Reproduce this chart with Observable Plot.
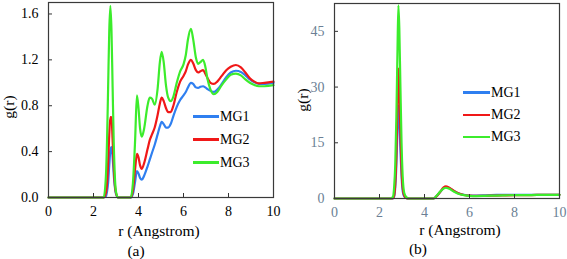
<!DOCTYPE html>
<html>
<head>
<meta charset="utf-8">
<script src="https://cdn.jsdelivr.net/npm/d3@7"></script>
<script src="https://cdn.jsdelivr.net/npm/@observablehq/plot@0.6"></script>
<style>
  html, body { margin: 0; padding: 0; background: #fff; }
  #wrap { position: relative; width: 567px; height: 259px; font-family: "Times New Roman", Times, "Liberation Serif", "DejaVu Serif", serif; color: #000; }
  .abs { position: absolute; white-space: nowrap; transform: translate(-50%, -50%); line-height: 1; }
  .panel { position: absolute; top: 0; }
  .leg { position: absolute; font-size: 14px; line-height: 1; }
  .leg .sw { position: absolute; height: 2.4px; }
  .leg .lbl { position: absolute; transform: translateY(-50%); white-space: nowrap; }
</style>
</head>
<body>
<div id="wrap"></div>
<script>
// ---------- Data ----------
const series = ["MG1", "MG2", "MG3"];
const colors = ["#2f7ff0", "#f01818", "#3cec2c"];

// Panel (a): g(r) vs r
const rA = [0, 2.45, 2.55, 2.6, 2.65, 2.7, 2.75, 2.8, 2.85, 2.9, 2.95, 3.0, 3.1, 3.65, 3.75, 3.85, 3.93, 4.0, 4.07, 4.15, 4.25, 4.4, 4.5, 4.6, 4.72, 4.85, 4.95, 5.03, 5.12, 5.22, 5.32, 5.43, 5.55, 5.7, 5.85, 6.0, 6.1, 6.2, 6.33, 6.43, 6.55, 6.65, 6.75, 6.87, 6.97, 7.07, 7.2, 7.35, 7.5, 7.7, 7.9, 8.1, 8.33, 8.55, 8.75, 8.95, 9.15, 9.35, 9.6, 10];
const mg1A = [0, 0, 0.01, 0.05, 0.13, 0.28, 0.41, 0.44, 0.35, 0.2, 0.09, 0.03, 0, 0, 0.03, 0.14, 0.23, 0.21, 0.17, 0.155, 0.19, 0.27, 0.33, 0.39, 0.46, 0.55, 0.62, 0.66, 0.64, 0.61, 0.61, 0.64, 0.71, 0.79, 0.85, 0.89, 0.92, 0.96, 1.0, 0.99, 0.96, 0.955, 0.965, 0.97, 0.96, 0.945, 0.93, 0.92, 0.94, 0.99, 1.05, 1.09, 1.105, 1.095, 1.065, 1.03, 1.005, 0.99, 0.99, 1.0];
const mg2A = [0, 0, 0.04, 0.12, 0.3, 0.55, 0.7, 0.7, 0.5, 0.27, 0.11, 0.04, 0, 0, 0.06, 0.25, 0.38, 0.35, 0.28, 0.25, 0.3, 0.42, 0.5, 0.55, 0.61, 0.72, 0.82, 0.87, 0.84, 0.78, 0.745, 0.745, 0.8, 0.92, 1.01, 1.06, 1.1, 1.16, 1.2, 1.17, 1.11, 1.09, 1.1, 1.11, 1.08, 1.04, 1.0, 0.99, 1.01, 1.06, 1.11, 1.14, 1.155, 1.135, 1.09, 1.04, 1.01, 0.995, 1.0, 1.01];
const mg3A = [0, 0, 0.18, 0.48, 0.96, 1.45, 1.67, 1.45, 0.96, 0.48, 0.18, 0.05, 0, 0, 0.12, 0.5, 0.89, 0.78, 0.6, 0.53, 0.6, 0.8, 0.87, 0.86, 0.81, 0.95, 1.18, 1.27, 1.18, 0.98, 0.87, 0.84, 0.88, 1.0, 1.1, 1.16, 1.24, 1.38, 1.47, 1.38, 1.22, 1.165, 1.18, 1.2, 1.14, 1.03, 0.94, 0.9, 0.92, 0.98, 1.03, 1.07, 1.08, 1.065, 1.03, 1.0, 0.98, 0.97, 0.97, 0.98];

// Panel (b): g(r) vs r
const rB = [0, 2.5, 2.6, 2.65, 2.7, 2.75, 2.8, 2.84, 2.88, 2.93, 2.98, 3.03, 3.1, 3.2, 3.3, 4.4, 4.55, 4.7, 4.85, 4.95, 5.1, 5.3, 5.5, 5.75, 6.0, 6.3, 6.7, 7.2, 7.6, 8.0, 8.5, 9.0, 9.5, 10];
const mg1B = [0, 0, 0.05, 0.5, 3, 9, 19, 25, 22, 13, 6, 2, 0.5, 0.1, 0, 0, 0.7, 1.8, 2.8, 3.1, 2.8, 2.0, 1.4, 1.0, 0.8, 0.8, 0.85, 0.95, 1.0, 1.0, 0.98, 0.97, 0.98, 1.0];
const mg2B = [0, 0, 0.1, 0.8, 4, 12, 26, 35, 30, 18, 8, 3, 0.8, 0.1, 0, 0, 0.7, 1.8, 3.0, 3.3, 2.9, 2.1, 1.4, 0.95, 0.75, 0.7, 0.72, 0.8, 0.85, 0.9, 0.92, 0.95, 0.97, 1.0];
const mg3B = [0, 0, 0.5, 3, 9, 22, 40, 52, 46, 30, 15, 6, 1.5, 0.3, 0, 0, 0.8, 1.9, 2.7, 2.9, 2.6, 1.9, 1.3, 0.9, 0.7, 0.65, 0.7, 0.8, 0.85, 0.9, 0.9, 0.95, 0.95, 1.0];

const xTicks = [0, 2, 4, 6, 8, 10];
const yTicksA = [0, 0.4, 0.8, 1.2, 1.6];
const yTicksB = [0, 15, 30, 45];

// ---------- Build ----------
const FONT = '"Times New Roman", Times, "Liberation Serif", "DejaVu Serif", serif';
function toRows(r, arrs) {
  const rows = [];
  arrs.forEach((a, i) => a.forEach((g, j) => rows.push({ series: series[i], r: r[j], g })));
  return rows;
}
const rowsA = toRows(rA, [mg1A, mg2A, mg3A]);
const rowsB = toRows(rB, [mg1B, mg2B, mg3B]);

const wrap = document.getElementById("wrap");

function panel({ rows, left, width, height, margins, yDomain, yTicks, yFmt, tickColor }) {
  const chart = Plot.plot({
    width, height,
    marginLeft: margins[0], marginRight: margins[1], marginTop: margins[2], marginBottom: margins[3],
    style: { fontFamily: FONT, fontSize: "14px", background: "transparent", overflow: "visible" },
    x: { domain: [0, 10] },
    y: { domain: yDomain },
    color: { domain: series, range: colors },
    marks: [
      Plot.line(rows, { x: "r", y: "g", z: "series", stroke: "series", strokeWidth: 2.2, curve: "monotone-x" }),
      Plot.axisX(xTicks, { tickSize: -4, tickFormat: () => "", label: null, stroke: "#333" }),
      Plot.axisX(xTicks, { tickSize: 0, tickPadding: 9, label: null, fill: tickColor, fontSize: 14, fontFamily: FONT }),
      Plot.axisY(yTicks, { tickSize: -4, tickFormat: () => "", label: null, stroke: "#333" }),
      Plot.axisY(yTicks, { tickSize: 0, tickPadding: 10, label: null, tickFormat: yFmt, fill: tickColor, fontSize: 14, fontFamily: FONT }),
      Plot.frame({ stroke: "#3a3a3a", strokeWidth: 1.2 })
    ]
  });
  chart.classList.add("panel");
  chart.style.left = left + "px";
  wrap.appendChild(chart);
}

panel({ rows: rowsA, left: 0, width: 290, height: 225, margins: [48, 17, 2, 28], yDomain: [0, 1.7], yTicks: yTicksA, yFmt: d3.format(".1f"), tickColor: "#000" });
panel({ rows: rowsB, left: 290, width: 277, height: 225, margins: [44, 8, 3, 27], yDomain: [0, 52.5], yTicks: yTicksB, yFmt: d3.format("d"), tickColor: "#6b7f95" });

function text(str, x, y, size, rotate) {
  const d = document.createElement("div");
  d.className = "abs";
  d.textContent = str;
  d.style.left = x + "px";
  d.style.top = y + "px";
  d.style.fontSize = size + "px";
  d.style.fontFamily = FONT;
  if (rotate) d.style.transform = "translate(-50%, -50%) rotate(-90deg)";
  wrap.appendChild(d);
}
text("r (Angstrom)", 159, 231, 15.5);
text("(a)", 136, 251, 15.5);
text("g(r)", 9, 107, 15.5, true);
text("r (Angstrom)", 460, 230, 15.5);
text("(b)", 418, 249, 15.5);
text("g(r)", 303, 100, 15.5, true);

function legend(x0, x1, ys) {
  const lg = document.createElement("div");
  lg.className = "leg";
  lg.style.left = "0px"; lg.style.top = "0px";
  lg.style.fontFamily = FONT;
  series.forEach((s, i) => {
    const sw = document.createElement("div");
    sw.className = "sw";
    sw.style.left = x0 + "px";
    sw.style.width = (x1 - x0) + "px";
    sw.style.top = (ys[i] - 1.2) + "px";
    sw.style.background = colors[i];
    lg.appendChild(sw);
    const lb = document.createElement("div");
    lb.className = "lbl";
    lb.textContent = s;
    lb.style.left = (x1 + 1) + "px";
    lb.style.top = ys[i] + "px";
    lg.appendChild(lb);
  });
  wrap.appendChild(lg);
}
legend(193, 219, [116.5, 139.5, 162.5]);
legend(463, 490, [92.5, 115, 137]);
</script>
</body>
</html>
